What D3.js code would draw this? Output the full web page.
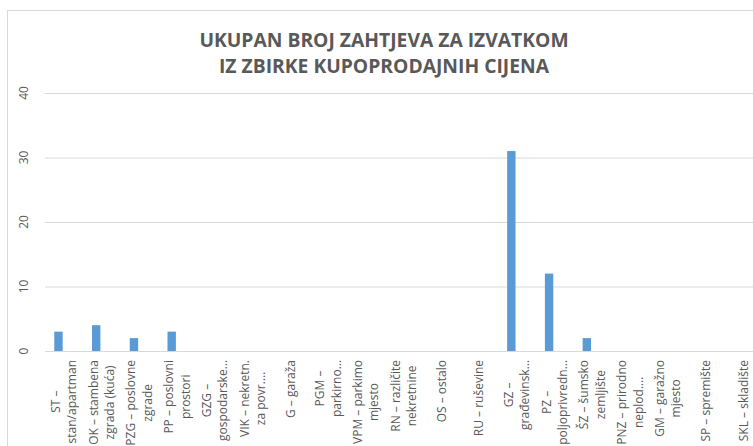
<!DOCTYPE html>
<html>
<head>
<meta charset="utf-8">
<script src="https://cdn.jsdelivr.net/npm/d3@7"></script>
<style>
  html, body { margin: 0; padding: 0; background: #fff; }
  svg { display: block; font-family: "Open Sans", "Segoe UI", sans-serif; }
</style>
</head>
<body>
<svg id="chart" width="753" height="446"></svg>
<script>
// Category codes and their wrapped axis labels
const categories = ["ST","OK","PZG","PP","GZG","VIK","G","PGM","VPM","RN","OS","RU","GZ","PZ","ŠZ","PNZ","GM","SP","SKL"];
const categoryLabels = [
  ["ST –", "stan/apartman"],
  ["OK – stambena", "zgrada (kuća)"],
  ["PZG – poslovne", "zgrade"],
  ["PP – poslovni", "prostori"],
  ["GZG –", "gospodarske…"],
  ["VIK – nekretn.", "za povr.…"],
  ["G – garaža"],
  ["PGM –", "parkirno…"],
  ["VPM – parkimo", "mjesto"],
  ["RN – različite", "nekretnine"],
  ["OS – ostalo"],
  ["RU – ruševine"],
  ["GZ –", "građevinsk…"],
  ["PZ –", "poljoprivredn…"],
  ["ŠZ – šumsko", "zemljište"],
  ["PNZ – prirodno", "neplod.…"],
  ["GM – garažno", "mjesto"],
  ["SP – spremište"],
  ["SKL – skladište"]
];
// Number of requests per category
const values = [3, 4, 2, 3, 0, 0, 0, 0, 0, 0, 0, 0, 31, 12, 2, 0, 0, 0, 0];
const yTicks = [0, 10, 20, 30, 40];
const titleLines = ["UKUPAN BROJ ZAHTJEVA ZA IZVATKOM", "IZ ZBIRKE KUPOPRODAJNIH CIJENA"];

const svg = d3.select("#chart");
const textColor = "#595959";
const gridColor = "#d9d9d9";
const barColor = "#5b9bd5";

svg.append("rect").attr("width", 753).attr("height", 446).attr("fill", "#fff");

// chart area frame
svg.append("rect")
  .attr("x", 7.5).attr("y", 10.5)
  .attr("width", 770).attr("height", 460)
  .attr("fill", "none").attr("stroke", gridColor).attr("stroke-width", 1);

const plotLeft = 45, step = 37.74;
const x = d3.scaleBand()
  .domain(categories)
  .range([plotLeft, plotLeft + step * categories.length])
  .padding(0);
const y = d3.scaleLinear().domain([0, 40]).range([351, 93]);

// title
svg.append("g").selectAll("text")
  .data(titleLines)
  .join("text")
  .attr("x", 384)
  .attr("y", (d, i) => 46.5 + i * 26)
  .attr("text-anchor", "middle")
  .attr("font-size", 19.3)
  .attr("font-weight", 700)
  .attr("fill", textColor)
  .text(d => d);

// horizontal gridlines
const yAxis = d3.axisLeft(y).tickValues(yTicks).tickSize(-(x.range()[1] - plotLeft)).tickFormat("");
const gy = svg.append("g").attr("transform", `translate(${plotLeft},0)`).call(yAxis);
gy.select(".domain").remove();
gy.selectAll(".tick line").attr("stroke", gridColor).attr("stroke-width", 1);

// y tick labels, rotated
svg.append("g").selectAll("text")
  .data(yTicks)
  .join("text")
  .attr("transform", d => `translate(28,${y(d)}) rotate(-90)`)
  .attr("text-anchor", "middle")
  .attr("font-size", 12)
  .attr("fill", textColor)
  .text(d => d);

// bars (first slot of each category cluster)
const barW = 8.4;
svg.append("g").selectAll("rect")
  .data(categories.map((c, i) => ({ c, v: values[i] })).filter(d => d.v > 0))
  .join("rect")
  .attr("x", d => x(d.c) + x.bandwidth() / 2 - barW - 1.2)
  .attr("y", d => y(d.v))
  .attr("width", barW)
  .attr("height", d => y(0) - y(d.v))
  .attr("fill", barColor);

// category labels, rotated and wrapped
const labelSize = 12;
const lineGap = 16.5;
const labelTop = 360;
const lg = svg.append("g");
categories.forEach((c, i) => {
  const lines = categoryLabels[i];
  const cx = x(c) + x.bandwidth() / 2;
  const g = lg.append("g");
  const texts = g.selectAll("text")
    .data(lines)
    .join("text")
    .attr("text-anchor", "middle")
    .attr("font-size", labelSize)
    .attr("fill", textColor)
    .text(d => d);
  let maxLen = 0;
  texts.each(function () { maxLen = Math.max(maxLen, this.getComputedTextLength()); });
  const n = lines.length;
  texts.attr("transform", (d, j) => {
    const lx = cx + (j - (n - 1) / 2) * lineGap + labelSize * 0.36;
    return `translate(${lx},${labelTop + maxLen / 2}) rotate(-90)`;
  });
});
</script>
</body>
</html>
